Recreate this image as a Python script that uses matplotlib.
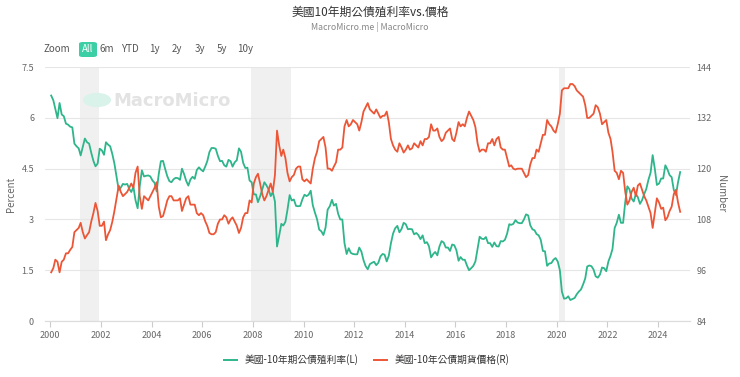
import numpy as np
import pandas as pd
import matplotlib
matplotlib.use('Agg')
import matplotlib.pyplot as plt
from matplotlib.patches import FancyBboxPatch, Circle

plt.rcParams['font.family'] = ['Noto Sans CJK TC', 'DejaVu Sans']

# 美國10年期公債殖利率 (%), monthly 2000-01 .. 2024-11
殖利率 = [
    6.66, 6.52, 6.26, 5.99, 6.44, 6.10, 6.05, 5.83, 5.80, 5.74, 5.72, 5.24,
    5.16, 5.10, 4.89, 5.14, 5.39, 5.28, 5.24, 4.97, 4.73, 4.57, 4.65, 5.09,
    5.04, 4.91, 5.28, 5.21, 5.16, 4.93, 4.65, 4.26, 3.87, 3.94, 4.05, 4.03,
    4.05, 3.90, 3.81, 3.96, 3.57, 3.33, 3.98, 4.45, 4.27, 4.29, 4.30, 4.27,
    4.15, 4.08, 3.83, 4.35, 4.72, 4.73, 4.50, 4.28, 4.13, 4.10, 4.19, 4.23,
    4.22, 4.17, 4.50, 4.34, 4.14, 4.00, 4.18, 4.26, 4.20, 4.46, 4.54, 4.47,
    4.42, 4.57, 4.72, 4.99, 5.11, 5.11, 5.09, 4.88, 4.72, 4.73, 4.60, 4.56,
    4.76, 4.72, 4.56, 4.69, 4.75, 5.10, 5.00, 4.67, 4.52, 4.53, 4.15, 4.10,
    3.74, 3.74, 3.51, 3.68, 3.88, 4.10, 4.01, 3.89, 3.69, 3.81, 3.53, 2.20,
    2.52, 2.87, 2.82, 2.93, 3.29, 3.72, 3.56, 3.59, 3.40, 3.39, 3.40, 3.59,
    3.73, 3.69, 3.73, 3.85, 3.42, 3.20, 3.01, 2.70, 2.65, 2.54, 2.76, 3.29,
    3.39, 3.58, 3.41, 3.46, 3.17, 3.00, 3.00, 2.30, 1.98, 2.15, 2.01, 1.98,
    1.97, 1.97, 2.17, 2.05, 1.80, 1.62, 1.53, 1.68, 1.72, 1.75, 1.65, 1.72,
    1.91, 1.98, 1.96, 1.76, 1.93, 2.30, 2.58, 2.74, 2.81, 2.62, 2.72, 2.90,
    2.86, 2.71, 2.72, 2.71, 2.56, 2.60, 2.54, 2.42, 2.53, 2.30, 2.33, 2.21,
    1.88, 1.98, 2.04, 1.94, 2.20, 2.36, 2.32, 2.17, 2.17, 2.07, 2.26, 2.24,
    2.09, 1.78, 1.89, 1.81, 1.81, 1.64, 1.50, 1.56, 1.63, 1.76, 2.14, 2.49,
    2.43, 2.42, 2.48, 2.30, 2.30, 2.19, 2.32, 2.21, 2.20, 2.36, 2.35, 2.40,
    2.58, 2.86, 2.84, 2.87, 2.98, 2.91, 2.89, 2.89, 3.00, 3.15, 3.12, 2.83,
    2.71, 2.68, 2.57, 2.53, 2.40, 2.07, 2.06, 1.63, 1.70, 1.71, 1.81, 1.86,
    1.76, 1.50, 0.87, 0.66, 0.67, 0.73, 0.62, 0.65, 0.68, 0.79, 0.87, 0.93,
    1.08, 1.26, 1.61, 1.64, 1.62, 1.52, 1.32, 1.28, 1.37, 1.58, 1.56, 1.47,
    1.76, 1.93, 2.13, 2.75, 2.90, 3.14, 2.90, 2.90, 3.52, 3.98, 3.89, 3.62,
    3.53, 3.75, 3.66, 3.46, 3.57, 3.75, 3.90, 4.17, 4.38, 4.90, 4.50, 4.02,
    4.06, 4.21, 4.21, 4.60, 4.48, 4.31, 4.25, 3.87, 3.72, 4.10, 4.40,
]

# 美國10年公債期貨價格, monthly 2000-01 .. 2024-11
期貨價格 = [
    95.5, 96.5, 98.5, 98.0, 95.5, 98.0, 98.5, 100.0, 100.0, 100.8, 101.5, 105.0,
    105.5, 106.0, 107.2, 105.0, 103.5, 104.3, 105.0, 107.5, 109.5, 111.9, 110.0, 106.5,
    106.5, 107.5, 103.1, 104.5, 105.5, 107.5, 110.0, 113.0, 116.0, 114.5, 113.5, 114.0,
    114.5, 115.5, 116.5, 115.5, 119.0, 120.5, 113.5, 110.5, 113.5, 113.0, 112.5, 113.5,
    114.5, 115.5, 116.8, 111.0, 108.5, 108.8, 110.5, 112.5, 113.5, 113.5, 112.5, 112.5,
    112.5, 113.0, 110.0, 111.5, 113.0, 113.5, 111.5, 111.5, 111.5, 109.5, 109.0, 109.5,
    109.0, 107.5, 106.5, 104.8, 104.5, 104.5, 105.0, 107.0, 108.0, 108.0, 109.0, 108.5,
    107.0, 108.0, 108.5, 107.5, 106.5, 104.8, 106.0, 108.5, 109.5, 109.5, 112.5, 112.0,
    116.5, 118.0, 118.8, 116.5, 114.0, 112.5, 113.5, 115.0, 116.5, 114.5, 118.5, 129.0,
    125.5, 123.0, 124.5, 122.5, 119.0, 117.0, 118.0, 118.5, 120.0, 120.5, 120.5, 117.5,
    117.0, 117.5, 117.0, 116.5, 120.0, 122.5, 124.0, 126.5, 127.0, 127.5, 125.0, 120.0,
    120.0, 119.5, 120.5, 121.5, 124.5, 124.5, 125.0, 130.0, 131.5, 130.0, 130.5, 131.5,
    131.0, 130.5, 129.0, 131.0, 133.5, 134.5, 135.5, 134.0, 133.5, 133.0, 134.0, 133.0,
    132.0, 132.5, 132.5, 133.5, 131.0, 127.0, 125.5, 124.5, 124.0, 126.0, 125.0, 123.8,
    124.5, 125.5, 124.5, 124.8, 126.0, 125.5, 125.0, 126.5, 125.5, 127.0, 127.0, 127.5,
    130.5, 129.0, 129.0, 129.5, 127.5, 126.5, 127.0, 128.5, 129.0, 129.5, 127.0, 126.5,
    128.5, 131.0, 130.0, 130.5, 130.0, 132.0, 133.5, 132.5, 131.5, 129.8, 126.0, 124.0,
    124.5, 124.5, 124.0, 126.0, 126.0, 127.0, 125.5, 127.0, 127.5, 125.0, 124.5, 124.5,
    122.5, 120.5, 120.8, 120.0, 119.8, 120.0, 120.0, 120.0, 119.0, 118.0, 118.5, 121.0,
    122.5, 122.5, 124.5, 124.0, 126.0, 128.0, 128.0, 131.5, 130.5, 130.0, 129.0, 128.5,
    130.5, 133.0, 138.5, 139.0, 139.0, 139.0, 140.0, 140.0, 139.5, 138.5, 138.0, 137.5,
    137.0, 135.0, 132.0, 132.0, 132.5, 133.0, 135.0, 134.5, 133.0, 130.5, 131.0, 131.5,
    128.5, 127.0, 124.0, 119.5, 119.0, 117.5, 119.5, 119.0, 114.5, 111.5, 112.5, 114.5,
    115.5, 113.5, 116.0, 116.5, 115.0, 113.5, 112.5, 111.0, 109.5, 106.0, 109.5, 113.0,
    112.0, 110.5, 110.8, 107.8, 108.5, 110.0, 111.0, 114.0, 115.0, 112.0, 109.8,
]

# 衰退期 (陰影)
衰退期 = [('2001-03-01', '2001-11-30'), ('2007-12-01', '2009-06-30'), ('2020-02-01', '2020-04-30')]

日期 = pd.date_range('2000-01-01', periods=len(殖利率), freq='MS') + pd.Timedelta(days=14)
df = pd.DataFrame({'殖利率': 殖利率, '期貨價格': 期貨價格}, index=日期)

green = '#2eb58b'
red = '#ec5636'
gray_txt = '#666666'

fig = plt.figure(figsize=(7.4, 3.77), dpi=100)
ax = fig.add_axes([0.061, 0.1485, 0.871, 0.6735])
ax2 = ax.twinx()

for a, b in 衰退期:
    ax.axvspan(pd.Timestamp(a), pd.Timestamp(b), color='#f0f0f0', zorder=0, lw=0)

ax.plot(df.index, df['殖利率'], color=green, lw=1.3, zorder=3)
ax2.plot(df.index, df['期貨價格'], color=red, lw=1.3, zorder=3)

ax.set_ylim(0, 7.5)
ax.set_yticks([0, 1.5, 3, 4.5, 6, 7.5])
ax.set_yticklabels(['0', '1.5', '3', '4.5', '6', '7.5'])
ax2.set_ylim(84, 144)
ax2.set_yticks([84, 96, 108, 120, 132, 144])

ax.set_xlim(pd.Timestamp('1999-10-20'), pd.Timestamp('2025-04-01'))
ax.set_xticks([pd.Timestamp(f'{y}-01-01') for y in range(2000, 2025, 2)])
ax.set_xticklabels([str(y) for y in range(2000, 2025, 2)])

ax.grid(axis='y', color='#e6e6e6', lw=0.8)
ax.set_axisbelow(True)
for a in (ax, ax2):
    for s in ['top', 'left', 'right']:
        a.spines[s].set_visible(False)
    a.spines['bottom'].set_color('#dcdcdc')
ax.tick_params(axis='y', length=0, labelsize=6.5, colors=gray_txt, pad=8)
ax2.tick_params(axis='y', length=0, labelsize=6.5, colors=gray_txt, pad=5)
ax.tick_params(axis='x', length=4, color='#cccccc', labelsize=6.5, colors=gray_txt, pad=3)

ax.set_ylabel('Percent', fontsize=7, color=gray_txt, labelpad=4)
ax2.set_ylabel('Number', fontsize=7, color=gray_txt, rotation=270, labelpad=10)

# watermark
fig.patches.append(Circle((97 / 740, 1 - 100 / 377), 0.019, transform=fig.transFigure,
                          facecolor='#d9f3ea', edgecolor='none', zorder=1))
fig.text(113 / 740, 1 - 101 / 377, 'MacroMicro', fontsize=13, color='#e3e3e3',
         fontweight='bold', va='center', ha='left', family='DejaVu Sans')

# title
fig.text(0.5, 1 - 12 / 377, '美國10年期公債殖利率vs.價格', ha='center', va='center',
         fontsize=8.5, color='#333333')
fig.text(0.5, 1 - 27 / 377, 'MacroMicro.me | MacroMicro', ha='center', va='center',
         fontsize=6.3, color='#888888')

# range buttons
buttons = ['Zoom', 'All', '6m', 'YTD', '1y', '2y', '3y', '5y', '10y']
bx = [57, 88, 107, 130, 154, 177, 200, 222, 245]
fig.patches.append(FancyBboxPatch((79 / 740, 1 - 57 / 377), 18 / 740, 15 / 377,
                                  boxstyle='round,pad=0,rounding_size=0.005',
                                  transform=fig.transFigure, facecolor='#3ccfa5',
                                  edgecolor='none'))
for t, x in zip(buttons, bx):
    fig.text(x / 740, 1 - 49.5 / 377, t, ha='center', va='center', fontsize=7,
             color='#ffffff' if t == 'All' else '#555555')

# legend
ax.plot([], [], color=green, lw=1.4, label='美國-10年期公債殖利率(L)')
ax.plot([], [], color=red, lw=1.4, label='美國-10年公債期貨價格(R)')
leg = fig.legend(loc='center', bbox_to_anchor=(367 / 740, 1 - 360 / 377), ncol=2, frameon=False,
                 fontsize=7, handlelength=1.3, columnspacing=1.6, labelcolor='#333333')

fig.savefig('out.png', dpi=100)
